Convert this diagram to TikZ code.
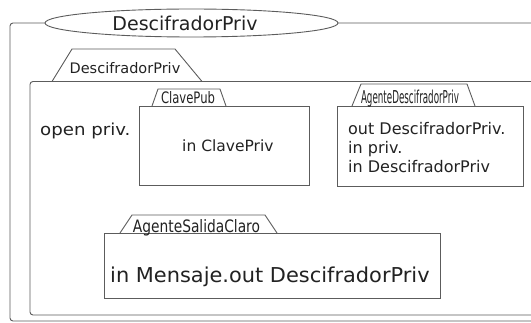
\documentclass[tikz,border=0pt]{standalone}
\usepackage{fontspec}
\setmainfont{DejaVu Sans}
\newfontfamily\narrowfont{DejaVu Sans Condensed}
\usetikzlibrary{shapes.geometric}
\definecolor{frameline}{HTML}{5C5C5C}
\definecolor{ink}{HTML}{222222}
\tikzset{
  frame/.style={draw=frameline, line width=0.9pt, rounded corners=3pt},
  box/.style={draw=frameline, line width=0.9pt, fill=white},
  tabline/.style={draw=frameline, line width=0.9pt, line join=round},
  lbl/.style={inner sep=0pt, text=ink},
}
% condensed tab caption squeezed to a given width and ascender height
\newcommand{\tabtext}[3]{\resizebox{#1pt}{#2pt}{\narrowfont #3}}
\newcommand{\fsz}[1]{\fontsize{#1}{#1}\selectfont}

\begin{document}
\begin{tikzpicture}[x=1pt,y=-1pt]
\useasboundingbox (0,0) rectangle (531,323);
\begin{scope}
\clip (0,0) rectangle (531,323);

% outer frame with its elliptic title
\draw[frame] (10,23) rectangle (560,321);
\node[ellipse, draw=frameline, fill=white, line width=0.9pt,
      minimum width=293pt, minimum height=28pt, inner sep=0pt] (title) at (191.5,23) {};
\node[lbl, font=\fsz{19}] (titletext) at (185,23) {DescifradorPriv};

% inner frame with its tab
\draw[frame] (30,81.5) rectangle (560,315);
\draw[tabline] (52,81.5) -- (72,49) -- (175,49) -- (202,81.5);
\node[lbl, font=\fsz{14.5}, anchor=base] (innertab) at (125,73.5) {DescifradorPriv};

\node[lbl, font=\fsz{16.5}, anchor=base west, xscale=1.1] (open) at (40,136) {open priv.};

% ClavePub
\draw[box] (139,106) rectangle (309,185);
\draw[tabline] (152,106) -- (158,89) -- (220,89) -- (226,106);
\node[lbl, anchor=base] (clavepubtab) at (188,103.5) {\tabtext{54}{12}{ClavePub}};
\node[lbl, font=\fsz{15.5}, anchor=base west] (clavepriv) at (182,152) {in ClavePriv};

% AgenteDescifradorPriv
\draw[box] (337,106) rectangle (523,186);
\draw[tabline] (352,106) -- (361,84) -- (467,84) -- (475,106);
\node[lbl, anchor=base] (agdtab) at (410,104) {\tabtext{98}{13.5}{AgenteDescifradorPriv}};
\node[lbl, font=\fsz{16}, anchor=base west] (agd1) at (348,135) {out DescifradorPriv.};
\node[lbl, font=\fsz{16}, anchor=base west] (agd2) at (348,154) {in priv.};
\node[lbl, font=\fsz{16}, anchor=base west] (agd3) at (348,173) {in DescifradorPriv};

% AgenteSalidaClaro
\draw[box] (104,233) rectangle (440,298);
\draw[tabline] (120,233) -- (132,215) -- (265,215) -- (277,233);
\node[lbl, anchor=base] (agstab) at (196.5,232.5) {\tabtext{127}{13}{AgenteSalidaClaro}};
\node[lbl, font=\fsz{20.5}, anchor=base west, xscale=1.02] (ags) at (110,283) {in Mensaje.out DescifradorPriv};
\end{scope}
\end{tikzpicture}
\end{document}
